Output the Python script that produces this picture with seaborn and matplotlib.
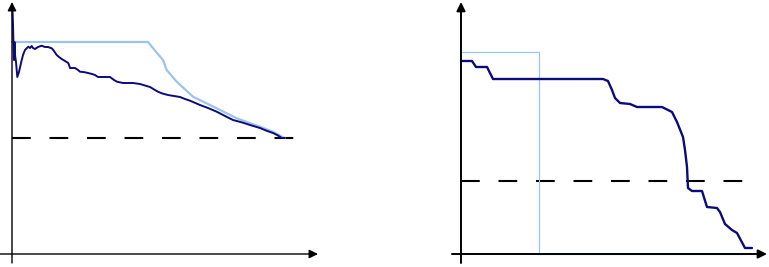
import matplotlib
matplotlib.use("Agg")
import matplotlib.pyplot as plt
import seaborn as sns

# ---- Left panel data ----
left_dark_x = [0.5, 1, 1.5, 2, 2.5, 3, 4, 5.3, 7, 9, 11, 13, 15, 16.3, 18, 19.7, 21, 23, 26, 29.7, 33, 36, 39.7,
               41.3, 44.7, 47, 49.7, 53, 56.3, 58, 63, 66, 68, 71, 74, 76, 80, 83, 86, 92, 98, 102, 105, 111, 116,
               121, 128, 133, 138, 143, 146, 149.7, 156, 162, 168, 173, 178, 188, 196, 204.7, 213, 221, 231, 238,
               248, 254, 261, 266, 269.7, 273]
left_dark_y = [244, 229, 209, 194, 212, 199, 192, 177, 182, 191, 199, 204, 206, 207.3, 206, 208, 206, 205, 207,
               208.3, 207, 207, 205.7, 204, 199, 197, 195, 193, 191, 186, 186, 184, 182.3, 182, 181.5, 181, 180,
               179, 177, 177, 177, 174, 172.3, 171, 171, 171, 170, 168.5, 167, 164, 162.3, 160.7, 159, 158, 157,
               155, 153.3, 149, 146, 142.3, 138, 134, 131.3, 129, 126, 123.5, 121, 118.5, 116, 116]
left_light_x = [0, 136, 145, 151, 154.7, 164.7, 181, 204.7, 224.7, 248, 261, 271, 273]
left_light_y = [212, 212, 201, 194, 184, 172.3, 157.3, 145.7, 135.7, 127.3, 122.3, 116.7, 116]
left_dash_x = [0, 288]
left_dash_y = [116, 116]

# ---- Right panel data ----
right_dark_x = [0, 11, 15, 26, 32, 142, 147, 151, 154, 159, 169, 176, 201, 207, 211, 216, 222, 224, 226, 227,
                231, 241, 246, 256, 259, 264, 271, 276, 284, 291]
right_dark_y = [193, 193, 187, 187, 175, 175, 173, 164, 156, 151, 150, 147, 147, 144, 142, 132, 117, 104, 87, 66,
                63, 63, 47, 46, 42, 30, 24, 21, 6, 6]
right_light_x = [0, 77.5, 77.5, 284]
right_light_y = [202.5, 202.5, 0, 0]
right_dash_x = [0, 289]
right_dash_y = [73, 73]

DARK = "#0b0b7a"
LIGHT = "#9cc4ea"

sns.set_style("white")
fig = plt.figure(figsize=(7.69, 2.67), dpi=100)

axL = fig.add_axes([0, 0, 330 / 769, 1])
axR = fig.add_axes([440 / 769, 0, 329 / 769, 1])


def arrows(ax, x0, x1, lw):
    ax.annotate("", xy=(x1, 0), xytext=(x0, 0),
                arrowprops=dict(arrowstyle="-|>", mutation_scale=13, lw=lw, color="black",
                                shrinkA=0, shrinkB=0))
    ax.annotate("", xy=(0, 252), xytext=(0, -9),
                arrowprops=dict(arrowstyle="-|>", mutation_scale=13, lw=lw, color="black",
                                shrinkA=0, shrinkB=0))


# Left
sns.lineplot(x=left_dash_x, y=left_dash_y, ax=axL, color="black", lw=1.5,
             linestyle=(0, (9, 9)), sort=False, estimator=None)
sns.lineplot(x=left_light_x, y=left_light_y, ax=axL, color=LIGHT, lw=1.6, sort=False, estimator=None)
sns.lineplot(x=left_dark_x, y=left_dark_y, ax=axL, color=DARK, lw=1.4, sort=False, estimator=None)
arrows(axL, -12, 306, 1.0)
axL.set_xlim(-12, 318)
axL.set_ylim(-13, 254)

# Right
sns.lineplot(x=right_dash_x, y=right_dash_y, ax=axR, color="black", lw=1.5,
             linestyle=(0, (9, 9)), sort=False, estimator=None)
sns.lineplot(x=right_light_x, y=right_light_y, ax=axR, color=LIGHT, lw=0.9, sort=False, estimator=None)
sns.lineplot(x=right_dark_x, y=right_dark_y, ax=axR, color=DARK, lw=1.7, sort=False, estimator=None)
arrows(axR, -9, 306, 1.4)
axR.set_xlim(-21, 308)
axR.set_ylim(-13, 254)

for ax in (axL, axR):
    ax.axis("off")

fig.savefig("out.png", dpi=100)
